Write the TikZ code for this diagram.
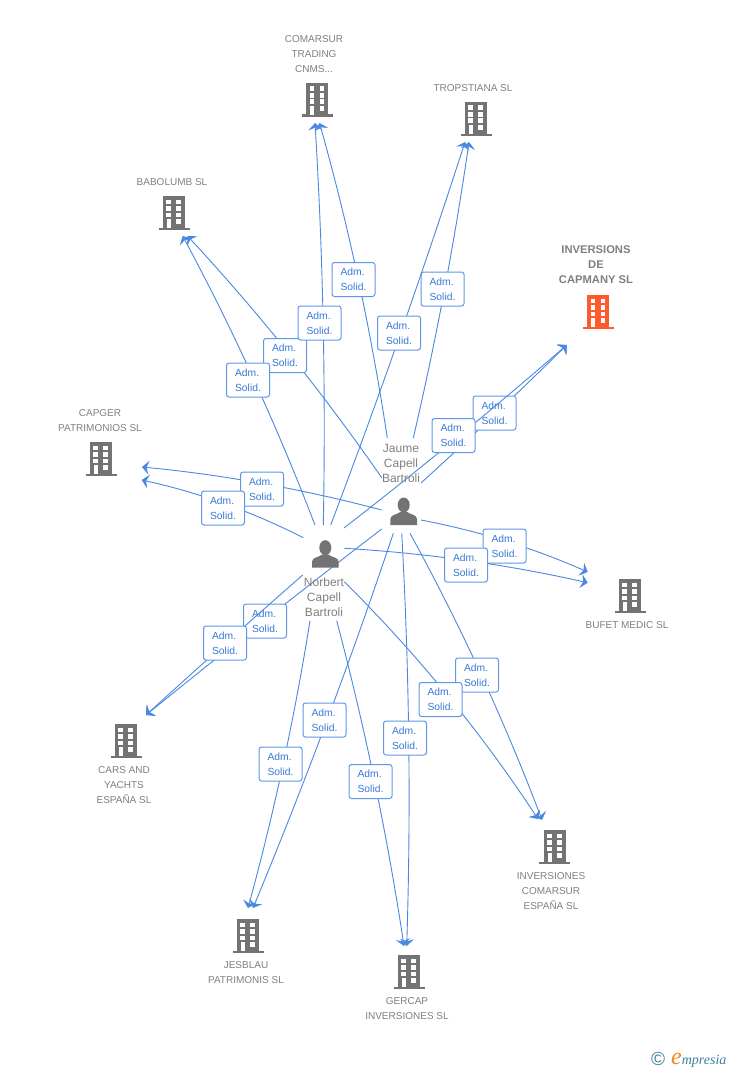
\documentclass[tikz,border=0pt]{standalone}
\usepackage{fontspec}
\setmainfont{Liberation Sans}
\newfontfamily\logofont{Liberation Serif}
\usetikzlibrary{arrows.meta,calc}
\definecolor{lnkblue}{HTML}{4A88E2}
\definecolor{boxblue}{HTML}{5F97E8}
\definecolor{txtblue}{HTML}{3778D8}
\definecolor{icongray}{HTML}{737373}
\definecolor{txtgray}{HTML}{808080}
\definecolor{iconred}{HTML}{FF5A2E}
\definecolor{logoteal}{HTML}{3D7F9C}
\definecolor{logoorange}{HTML}{F08A1C}
\tikzset{
  lnk/.style={draw=lnkblue,line width=0.9pt,-{Stealth[length=7pt,width=14pt,inset=2.5pt]}},
  role/.style={draw=boxblue,line width=1pt,rounded corners=2.5pt,fill=white,
    minimum width=43pt,minimum height=34pt,inner sep=0pt,text=txtblue,align=left,
    font=\fontsize{10.3}{15}\selectfont},
  coname/.style={text=txtgray,align=center,inner sep=0pt,font=\fontsize{10}{15}\selectfont},
  mainconame/.style={text=txtgray,align=center,inner sep=0pt,font=\fontsize{11.2}{15}\selectfont\bfseries},
  pername/.style={text=txtgray,align=center,inner sep=0pt,font=\fontsize{12}{15}\selectfont},
  pics/bldg/.style={code={
    \fill[#1] (-11,-17) rectangle (11,15);
    \fill[#1] (-15.5,14.5) rectangle (15.5,17);
    \foreach \yy in {-13.5,-7,-0.5} {
      \fill[white] (-7.7,\yy) rectangle (-3,\yy+4.7);
      \fill[white] (2.3,\yy) rectangle (7,\yy+4.7);
    }
    \fill[white] (-7,6) rectangle (-3,15);
    \fill[white] (2.3,6) rectangle (7,10.7);
  }},
  pics/person/.style={code={
    \fill[icongray] (0,-7) ellipse (6 and 7.5);
    \fill[icongray] (-13.3,13) -- (-13.3,7) .. controls (-13.3,2.5) and (-6,2.5) .. (-3.5,0)
      -- (3.5,0) .. controls (6,2.5) and (13.3,2.5) .. (13.3,7) -- (13.3,13) -- cycle;
  }}
}
% source, offset from source, target, offset from target, doubled bow to the right
\newcommand{\lk}[5]{%
  \pgfmathsetmacro{\bowlen}{(#5)*2/3}%
  \draw[lnk] ($(#1)+(#2)$)
    .. controls ($($(#1)+(#2)$)!.3333!($(#3)+(#4)$)!\bowlen pt!-90:($(#3)+(#4)$)$)
    and ($($(#1)+(#2)$)!.6667!($(#3)+(#4)$)!\bowlen pt!-90:($(#3)+(#4)$)$) .. ($(#3)+(#4)$);}
\begin{document}
\begin{tikzpicture}[x=1pt,y=-1pt]
\fill[white] (0,0) rectangle (728,1070);
\useasboundingbox (0,0) rectangle (728,1070);
\coordinate (J) at (403,512);
\coordinate (N) at (325,554);
\coordinate (com) at (317,100);
\coordinate (trop) at (475,119);
\coordinate (bab) at (174,213);
\coordinate (inv) at (598,313);
\coordinate (cap) at (101,459);
\coordinate (buf) at (630,596);
\coordinate (cars) at (126,741);
\coordinate (jes) at (248,936);
\coordinate (ger) at (409,972);
\coordinate (ic) at (554,847);
% Jaume: connectors, then boxes
\lk{J}{-15.7,-74}{com}{2.5,23}{10}
\lk{J}{10.3,-74}{trop}{-6,23}{6.4}
\lk{J}{-21.3,-34.3}{bab}{13.5,23}{11}
\lk{J}{18,-29}{inv}{-31.3,32}{2}
\lk{J}{-21.3,-2}{cap}{41,8}{10}
\lk{J}{18,8}{buf}{-42.3,-24}{-10}
\lk{J}{7,21.3}{ic}{-12,-27}{-11}
\lk{J}{-1.3,21.3}{ger}{-2.3,-26}{-9}
\lk{J}{-9.7,21.3}{jes}{5,-28}{-7}
\lk{J}{-21.3,17}{cars}{20,-26}{2}
\node[role] (rj1) at (353.5,279.5) {Adm.\\Solid.};
\node[role] (rj2) at (442.5,289) {Adm.\\Solid.};
\node[role] (rj3) at (285,355.5) {Adm.\\Solid.};
\node[role] (rj4) at (494.5,413) {Adm.\\Solid.};
\node[role] (rj5) at (262,489) {Adm.\\Solid.};
\node[role] (rj6) at (504.5,546) {Adm.\\Solid.};
\node[role] (rj7) at (477,675) {Adm.\\Solid.};
\node[role] (rj8) at (405,738) {Adm.\\Solid.};
\node[role] (rj9) at (324.5,720) {Adm.\\Solid.};
\node[role] (rj10) at (265,621) {Adm.\\Solid.};
% Norbert: connectors, then boxes
\lk{N}{-1.7,-29}{com}{-2,23}{8}
\lk{N}{5.7,-29}{trop}{-10,23}{5}
\lk{N}{-10,-29}{bab}{8.7,23}{10}
\lk{N}{19,-26}{inv}{-31.3,32}{4}
\lk{N}{-21.7,-16.3}{cap}{40.7,21}{11}
\lk{N}{19.3,-5.7}{buf}{-42.3,-13.3}{-10}
\lk{N}{19.3,27.7}{ic}{-16,-28}{-16}
\lk{N}{11.7,66.7}{ger}{-5,-26}{-9}
\lk{N}{-15,66.7}{jes}{0,-28}{-8}
\lk{N}{-22.3,21}{cars}{20,-26}{1}
\node[role] (rn1) at (319.5,323) {Adm.\\Solid.};
\node[role] (rn2) at (399,333) {Adm.\\Solid.};
\node[role] (rn3) at (248,380) {Adm.\\Solid.};
\node[role] (rn4) at (453.5,435.5) {Adm.\\Solid.};
\node[role] (rn5) at (223,508) {Adm.\\Solid.};
\node[role] (rn6) at (466,565) {Adm.\\Solid.};
\node[role] (rn7) at (440.5,699.5) {Adm.\\Solid.};
\node[role] (rn8) at (370.5,781.5) {Adm.\\Solid.};
\node[role] (rn9) at (280.5,764) {Adm.\\Solid.};
\node[role] (rn10) at (225,643) {Adm.\\Solid.};
% building icons
\pic at (317.3,100) {bldg=icongray};
\pic at (476,119) {bldg=icongray};
\pic at (174,213) {bldg=icongray};
\pic at (598.3,312) {bldg=iconred};
\pic at (101,459) {bldg=icongray};
\pic at (630,596) {bldg=icongray};
\pic at (126,741) {bldg=icongray};
\pic at (248,936) {bldg=icongray};
\pic at (409,972) {bldg=icongray};
\pic at (554.5,847) {bldg=icongray};
% persons
\pic at (403.7,512) {person};
\pic at (325.3,554.7) {person};
\node[pername] (tJ) at (401,463) {Jaume\\Capell\\Bartroli};
\node[pername] (tN) at (324,597) {Norbert\\Capell\\Bartroli};
% company names
\node[coname] (t1) at (314,54) {COMARSUR\\TRADING\\CNMS...};
\node[coname] (t2) at (473,88) {TROPSTIANA SL};
\node[coname] (t3) at (172,182) {BABOLUMB SL};
\node[mainconame] (t4) at (596,265) {INVERSIONS\\DE\\CAPMANY SL};
\node[coname] (t5) at (100,420.5) {CAPGER\\PATRIMONIOS SL};
\node[coname] (t6) at (627,625) {BUFET MEDIC SL};
\node[coname] (t7) at (124,785) {CARS AND\\YACHTS\\ESPAÑA SL};
\node[coname] (t8) at (246,972.5) {JESBLAU\\PATRIMONIS SL};
\node[coname] (t9) at (407,1008.5) {GERCAP\\INVERSIONES SL};
\node[coname] (t10) at (551,891) {INVERSIONES\\COMARSUR\\ESPAÑA SL};
% logo
\node[text=logoteal,inner sep=0pt,font=\fontsize{19}{19}\selectfont] (copy) at (658,1058.5) {©};
\node[anchor=base west,inner sep=0pt,text=logoteal,font=\logofont\itshape\fontsize{14}{14}\selectfont] (logo) at (671,1064) {{\color{logoorange}\fontsize{24}{24}\selectfont e}mpresia};
\end{tikzpicture}
\end{document}
